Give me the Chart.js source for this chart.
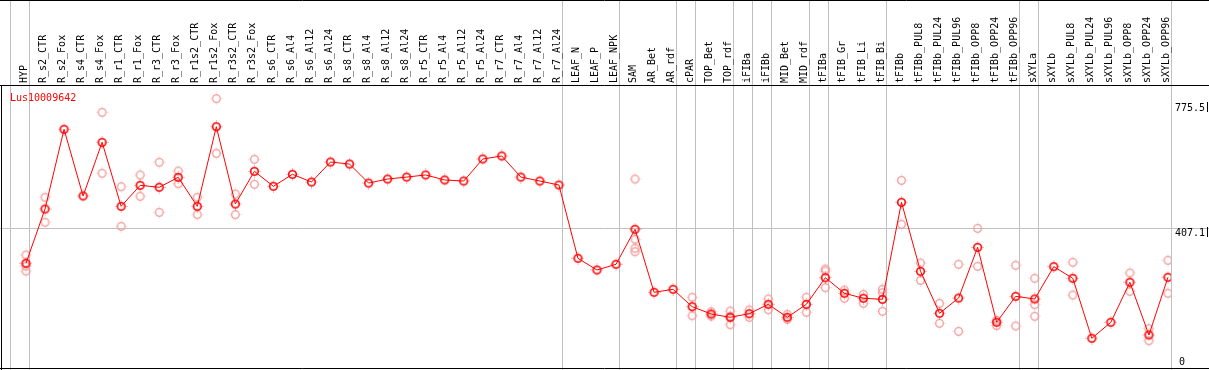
<!DOCTYPE html>
<html>
<head>
<meta charset="utf-8">
<script src="https://cdn.jsdelivr.net/npm/chart.js"></script>
<style>
  html, body { margin: 0; padding: 0; background: #fff; overflow: hidden; }
  canvas { display: block; }
</style>
</head>
<body>
<canvas id="myChart" width="1209" height="370"></canvas>
<script>
const categories = ['HYP', 'R_s2_CTR', 'R_s2_Fox', 'R_s4_CTR', 'R_s4_Fox', 'R_r1_CTR', 'R_r1_Fox',
  'R_r3_CTR', 'R_r3_Fox', 'R_r1s2_CTR', 'R_r1s2_Fox', 'R_r3s2_CTR', 'R_r3s2_Fox',
  'R_s6_CTR', 'R_s6_Al4', 'R_s6_Al12', 'R_s6_Al24', 'R_s8_CTR', 'R_s8_Al4', 'R_s8_Al12', 'R_s8_Al24',
  'R_r5_CTR', 'R_r5_Al4', 'R_r5_Al12', 'R_r5_Al24', 'R_r7_CTR', 'R_r7_Al4', 'R_r7_Al12', 'R_r7_Al24',
  'LEAF_N', 'LEAF_P', 'LEAF_NPK', 'SAM', 'AR_Bet', 'AR_rdf', 'cPAR', 'TOP_Bet', 'TOP_rdf',
  'iFIBa', 'iFIBb', 'MID_Bet', 'MID_rdf', 'tFIBa', 'tFIB_Gr', 'tFIB_Li', 'tFIB_Bi',
  'tFIBb', 'tFIBb_PUL8', 'tFIBb_PUL24', 'tFIBb_PUL96', 'tFIBb_OPP8', 'tFIBb_OPP24', 'tFIBb_OPP96',
  'sXYLa', 'sXYLb', 'sXYLb_PUL8', 'sXYLb_PUL24', 'sXYLb_PUL96', 'sXYLb_OPP8', 'sXYLb_OPP24', 'sXYLb_OPP96'];

// number of samples in each block between the grey separators
const groupSizes = [1, 28, 3, 3, 1, 2, 1, 1, 2, 1, 3, 7, 1, 7];

const geneName = 'Lus10009642';

const meanValues = [308.4, 462.4, 688.5, 499.3, 651.6, 470, 529.6, 524, 552.3, 470, 695.9, 476.6, 569.3,
  526.8, 560.8, 539, 595.7, 590, 536, 547.5, 553, 559, 544.7, 541.8, 604.3, 612.8, 553, 541.8, 530.5,
  322.6, 289.4, 305.5, 404.8, 226.1, 234.6, 185.3, 164.5, 155.2, 165.4, 192, 155.2, 192,
  267.5, 223.3, 209.1, 206.2, 481.4, 285.6, 166.5, 209.9, 353.7, 141, 214.7,
  207.1, 298.8, 265.8, 95.6, 141, 254.5, 105, 268.7];

const rep1 = [332, 495.6, null, null, 736.7, 525.7, 558.9, 594.9, 570.2, 495.6, 775.5, 505, 603.4,
  null, null, null, null, null, null, null, null, null, null, null, null, null, null, null, null,
  null, null, null, 547.5, null, null, 211.9, 171, 173, 175.9, 207.1, 163.7, 211.9,
  292.2, 232.6, 220.4, 234.6, 543.8, 309.2, 194.9, 305.5, 407.6, 146.7, 302.7,
  265.8, null, 311.2, null, null, 280.9, 122.9, 316.9];

const rep2 = [300.7, 424.7, null, null, 563.7, 413.3, 498.4, 453, 534.2, 446.3, 620.4, 446.3, 532.5,
  null, null, null, null, null, null, null, null, null, null, null, null, null, null, null, null,
  null, null, null, 376.5, null, null, 159.7, 158.9, 158, 155.2, 176.7, 149.5, 169.4,
  286.5, 209.1, 194.9, 225, 419, 260.1, 138.2, 115.4, 299.8, 131.4, 130.5,
  191, null, 218.4, null, null, 228.9, 88.8, 223.3];

const rep3 = [286.5, null, null, null, null, null, null, null, null, null, null, null, null,
  null, null, null, null, null, null, null, null, null, null, null, null, null, null, null, null,
  null, null, null, 350.9, null, null, null, null, 134.2, null, null, null, null,
  239.2, null, null, 172.2, null, null, null, null, null, null, null,
  158, null, null, null, null, null, null, null];

const rep4 = [null, null, null, null, null, null, null, null, null, null, null, null, null,
  null, null, null, null, null, null, null, null, null, null, null, null, null, null, null, null,
  null, null, null, 341.3, null, null, null, null, null, null, null, null, null,
  null, null, null, null, null, null, null, null, null, null, null,
  null, null, null, null, null, null, null, null];

const midTick = 407.1;
const axisLabels = [775.5, 407.1, 0];

const toPoints = arr => arr.map((v, i) => ({ x: i, y: v }));

const RED = '#ff0000';
const PINK = '#f09999';
const GREY = '#c0c0c0';
const FONT = '10px "DejaVu Sans Mono", "Liberation Mono", monospace';

// ring marker with tiny ticks at the four sides
function makeMarker(color, lw) {
  const c = document.createElement('canvas');
  c.width = 13; c.height = 13;
  const g = c.getContext('2d');
  g.strokeStyle = color;
  g.fillStyle = color;
  g.lineWidth = lw;
  g.beginPath();
  g.arc(6.5, 6.5, 3.8, 0, Math.PI * 2);
  g.stroke();
  g.globalAlpha = 0.6;
  g.fillRect(6, 0.5, 1, 1);
  g.fillRect(6, 11.5, 1, 1);
  g.fillRect(0.5, 6, 1, 1);
  g.fillRect(11.5, 6, 1, 1);
  return c;
}
const mainMarker = makeMarker(RED, 1.6);
const repMarker = makeMarker(PINK, 1.3);

const repSet = (arr) => ({
  data: toPoints(arr),
  showLine: false,
  borderColor: PINK,
  backgroundColor: 'rgba(0,0,0,0)',
  pointStyle: repMarker,
  pointRadius: 5,
  order: 2
});

const framePlugin = {
  id: 'frame',
  beforeDatasetsDraw(chart) {
    const ctx = chart.ctx;
    const x = chart.scales.x;
    const y = chart.scales.y;
    const W = chart.width, H = chart.height;
    ctx.save();
    ctx.strokeStyle = GREY;
    ctx.lineWidth = 1;
    // separators between sample groups
    let k = 0;
    const edges = [0];
    groupSizes.forEach(s => { k += s; edges.push(k); });
    edges.forEach(e => {
      const px = Math.round(x.getPixelForValue(e - 0.84)) + 0.5;
      ctx.beginPath();
      ctx.moveTo(px, 0);
      ctx.lineTo(px, H);
      ctx.stroke();
    });
    // middle grid line
    const gy = Math.round(y.getPixelForValue(midTick)) + 0.5;
    ctx.beginPath();
    ctx.moveTo(0, gy);
    ctx.lineTo(W, gy);
    ctx.stroke();
    ctx.restore();
  },
  afterDraw(chart) {
    const ctx = chart.ctx;
    const x = chart.scales.x;
    const y = chart.scales.y;
    const W = chart.width, H = chart.height;
    const top = chart.chartArea.top;
    ctx.save();
    // black frame
    ctx.strokeStyle = '#000';
    ctx.lineWidth = 1;
    ctx.beginPath();
    ctx.moveTo(0, 0.5); ctx.lineTo(W, 0.5);
    ctx.moveTo(0, top + 0.5); ctx.lineTo(W, top + 0.5);
    ctx.moveTo(0, H - 1.5); ctx.lineTo(W, H - 1.5);
    ctx.moveTo(1.5, top); ctx.lineTo(1.5, H);
    ctx.stroke();

    // rotated sample names
    ctx.font = FONT;
    ctx.fillStyle = '#000';
    ctx.textAlign = 'left';
    ctx.textBaseline = 'middle';
    categories.forEach((c, i) => {
      const px = x.getPixelForValue(i) - 1.5;
      ctx.save();
      ctx.translate(px, top - 2);
      ctx.rotate(-Math.PI / 2);
      ctx.fillText(c, 0, 0);
      ctx.restore();
    });

    // gene name
    ctx.fillStyle = RED;
    ctx.textBaseline = 'alphabetic';
    ctx.fillText(geneName, 10, top + 16);

    // value labels on the right
    ctx.fillStyle = '#000';
    axisLabels.forEach(v => {
      const base = Math.max(top + 26, Math.min(H - 5, y.getPixelForValue(v) + 7.5));
      const lx = v === 0 ? 1179 : 1175;
      ctx.fillText(String(v), lx, base);
      if (v !== 0) {
        ctx.fillRect(1207, base - 9, 1, 10);
      }
    });
    ctx.restore();
  }
};

new Chart(document.getElementById('myChart').getContext('2d'), {
  type: 'line',
  data: {
    datasets: [
      {
        data: toPoints(meanValues),
        borderColor: RED,
        borderWidth: 1,
        backgroundColor: 'rgba(0,0,0,0)',
        pointStyle: mainMarker,
        pointRadius: 5,
        tension: 0,
        order: 0
      },
      repSet(rep1),
      repSet(rep2),
      repSet(rep3),
      repSet(rep4)
    ]
  },
  options: {
    responsive: false,
    animation: false,
    layout: { autoPadding: false, padding: { left: 10, right: 38, top: 85, bottom: 0 } },
    scales: {
      x: { type: 'linear', min: -0.84, max: 60.16, display: false },
      y: { type: 'linear', min: 5.67, max: 814.2, display: false }
    },
    plugins: {
      legend: { display: false },
      tooltip: { enabled: false }
    }
  },
  plugins: [framePlugin]
});
</script>
</body>
</html>
